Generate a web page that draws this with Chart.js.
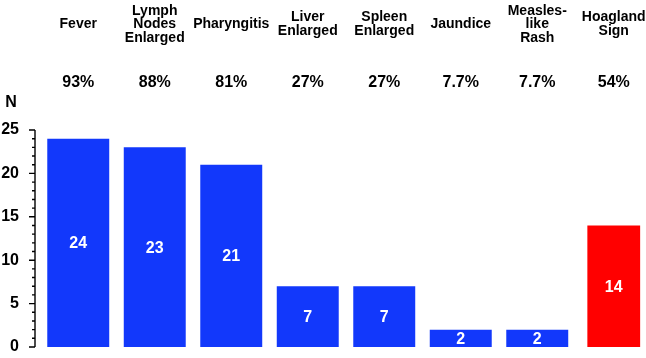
<!DOCTYPE html>
<html>
<head>
<meta charset="utf-8">
<script src="https://cdn.jsdelivr.net/npm/chart.js@4/dist/chart.umd.min.js"></script>
<style>
  html, body { margin: 0; padding: 0; background: #fff; overflow: hidden; }
  #wrap { position: relative; width: 656px; height: 358px; }
</style>
</head>
<body>
<div id="wrap"><canvas id="myChart"></canvas></div>
<script>
const categories = [['Fever'], ['Lymph', 'Nodes', 'Enlarged'], ['Pharyngitis'], ['Liver', 'Enlarged'],
    ['Spleen', 'Enlarged'], ['Jaundice'], ['Measles-', 'like', 'Rash'], ['Hoagland', 'Sign']];
const counts = [24, 23, 21, 7, 7, 2, 2, 14];
const percents = ['93%', '88%', '81%', '27%', '27%', '7.7%', '7.7%', '54%'];
const yTicks = [0, 5, 10, 15, 20, 25];
const redIndex = 7; // Hoagland sign drawn in red

const FONT = "Arial, 'Liberation Sans', sans-serif";
const blueCounts = counts.map((v, i) => i === redIndex ? null : v);
const redCounts = counts.map((v, i) => i === redIndex ? v : null);

// y axis line with major/minor ticks, and the "N" label
const yAxisPlugin = {
    id: 'yAxisLine',
    afterDraw(chart) {
        const ctx = chart.ctx;
        const y = chart.scales.y;
        const x0 = chart.chartArea.left - 5;
        ctx.save();
        ctx.strokeStyle = '#000';
        ctx.lineWidth = 1.4;
        ctx.beginPath();
        ctx.moveTo(x0, y.getPixelForValue(0));
        ctx.lineTo(x0, y.getPixelForValue(25));
        for (let v = 0; v <= 25; v++) {
            const py = y.getPixelForValue(v);
            const len = yTicks.includes(v) ? 6 : 3;
            ctx.moveTo(x0 - len, py);
            ctx.lineTo(x0, py);
        }
        ctx.stroke();
        ctx.fillStyle = '#000';
        ctx.font = 'bold 16px ' + FONT;
        ctx.textAlign = 'center';
        ctx.textBaseline = 'middle';
        ctx.fillText('N', 11, 103);
        ctx.restore();
    }
};

// count written in the middle of each bar
const valueLabels = {
    id: 'valueLabels',
    afterDatasetsDraw(chart) {
        const ctx = chart.ctx;
        ctx.save();
        ctx.fillStyle = '#fff';
        ctx.font = 'bold 16px ' + FONT;
        ctx.textAlign = 'center';
        ctx.textBaseline = 'middle';
        chart.data.datasets.forEach((ds, di) => {
            chart.getDatasetMeta(di).data.forEach((bar, i) => {
                if (ds.data[i] == null) return;
                ctx.fillText(ds.data[i], bar.x, (bar.y + bar.base) / 2 + 1);
            });
        });
        ctx.restore();
    }
};

function noSidePadding(scale) {
    scale.paddingLeft = 0;
    scale.paddingRight = 0;
}

new Chart(document.getElementById('myChart'), {
    type: 'bar',
    data: {
        labels: categories,
        datasets: [{
            data: blueCounts,
            backgroundColor: '#1238fb',
            barPercentage: 0.81,
            categoryPercentage: 1,
            grouped: false
        }, {
            data: redCounts,
            backgroundColor: '#ff0000',
            barPercentage: 0.69,
            categoryPercentage: 1,
            grouped: false
        }]
    },
    options: {
        responsive: true,
        maintainAspectRatio: false,
        animation: false,
        layout: { padding: { top: 0, left: 0, right: 4, bottom: 11 } },
        plugins: {
            legend: { display: false },
            title: { display: false },
            tooltip: { enabled: false }
        },
        scales: {
            x: {
                position: 'top',
                weight: 1,
                offset: true,
                grid: { display: false, drawTicks: false },
                border: { display: false },
                ticks: {
                    color: '#000',
                    font: { family: FONT, size: 14, weight: 'bold', lineHeight: 0.97 },
                    crossAlign: 'center',
                    padding: 22,
                    maxRotation: 0,
                    autoSkip: false
                },
                afterFit(scale) { scale.height = 60; noSidePadding(scale); }
            },
            xPct: {
                type: 'category',
                labels: percents,
                position: 'top',
                weight: 0,
                offset: true,
                grid: { display: false, drawTicks: false },
                border: { display: false },
                ticks: {
                    color: '#000',
                    font: { family: FONT, size: 16, weight: 'bold', lineHeight: 1.2 },
                    padding: 38,
                    maxRotation: 0,
                    autoSkip: false
                },
                afterFit(scale) { scale.height = 70; noSidePadding(scale); }
            },
            y: {
                min: 0,
                max: 25,
                grid: { display: false, drawTicks: false },
                border: { display: false },
                ticks: {
                    stepSize: 5,
                    color: '#000',
                    font: { family: FONT, size: 16, weight: 'bold' },
                    padding: 21
                },
                afterFit(scale) {
                    scale.width = 40;
                    scale.paddingTop = 0;
                    scale.paddingBottom = 0;
                }
            }
        }
    },
    plugins: [yAxisPlugin, valueLabels]
});
</script>
</body>
</html>
